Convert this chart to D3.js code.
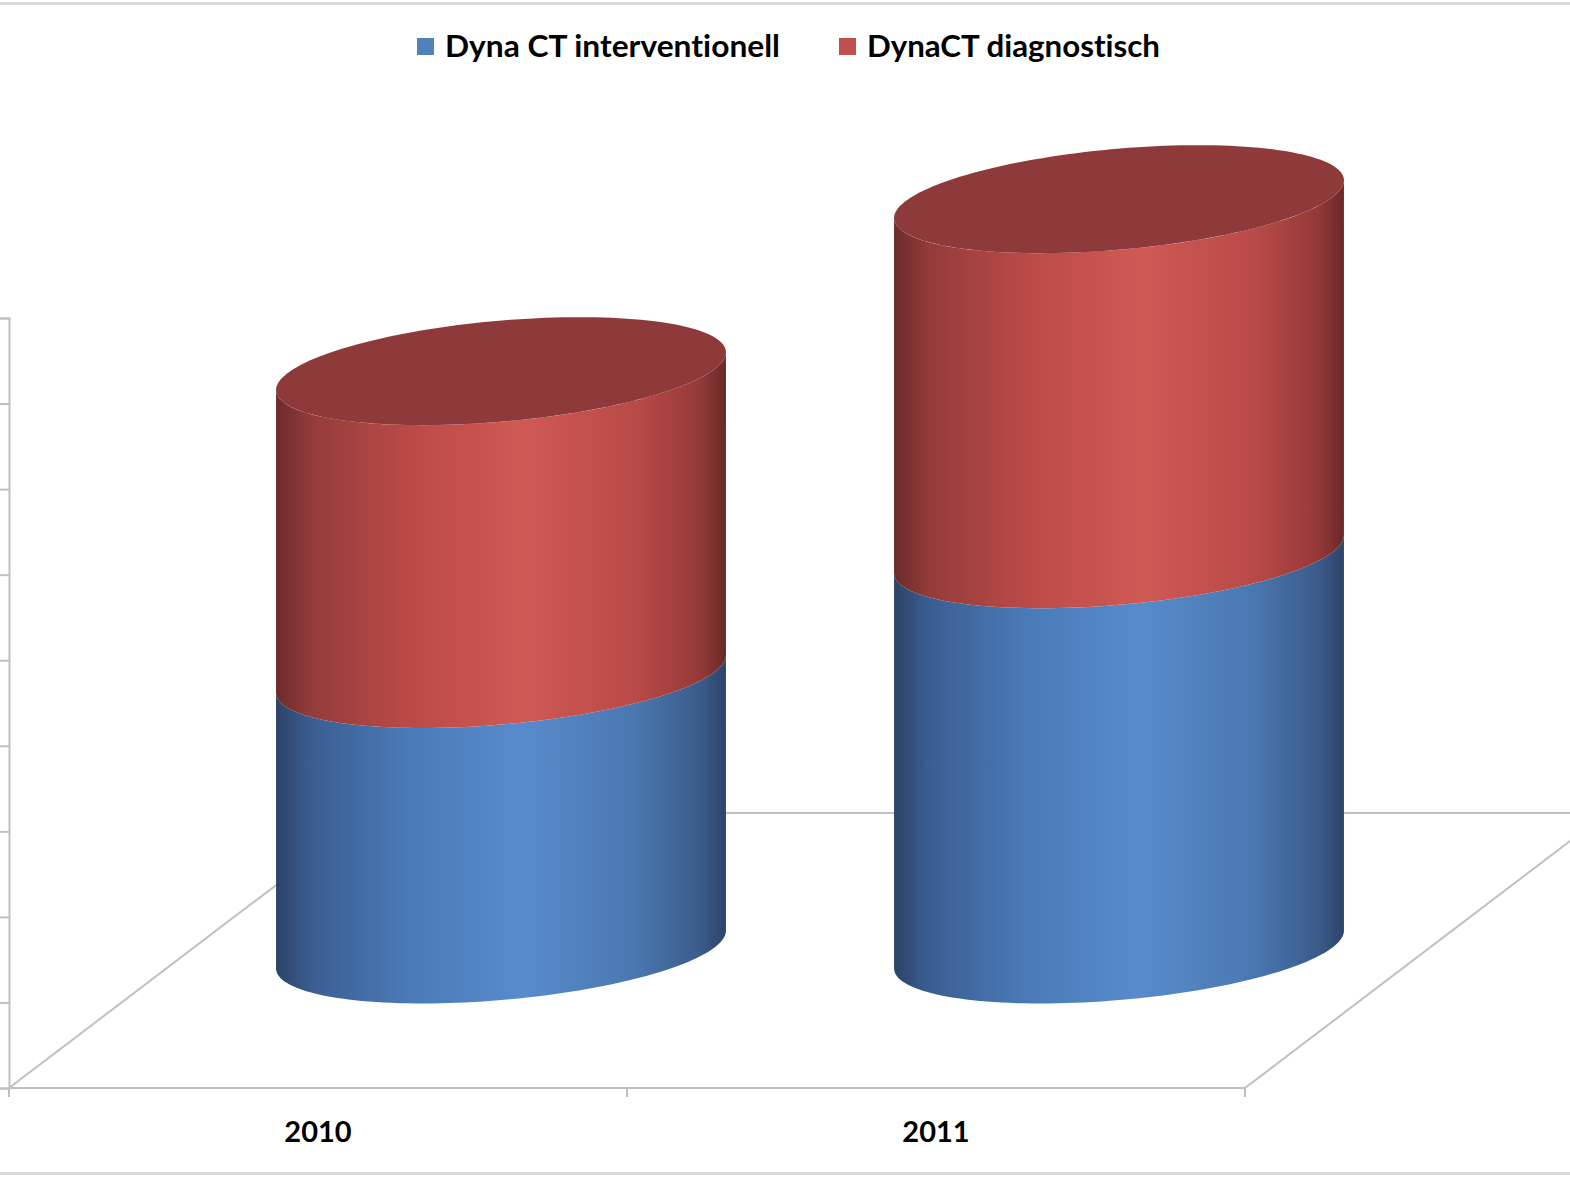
<!DOCTYPE html>
<html>
<head>
<meta charset="utf-8">
<script src="https://cdn.jsdelivr.net/npm/d3@7"></script>
<style>
  html, body { margin: 0; padding: 0; background: #fff; }
  svg { display: block; }
  text { font-family: Lato, "Open Sans", "Liberation Sans", sans-serif; font-weight: 700; fill: #000;
         font-variant-ligatures: none; font-feature-settings: "liga" 0, "dlig" 0; }
</style>
</head>
<body>
<svg id="chart" width="1570" height="1177"></svg>
<script>
// ---- data ----
const categories = ["2010", "2011"];
const seriesNames = ["Dyna CT interventionell", "DynaCT diagnostisch"];
const interventionell = [32.2, 46.2];
const diagnostisch = [35.4, 41.5];
const yTicks = [0, 10, 20, 30, 40, 50, 60, 70, 80, 90];

// ---- layout ----
const W = 1570, H = 1177;
const svg = d3.select("#chart");
const front = { left: 9, right: 1245, bottom: 1088, top: 318 };
const depth = { dx: 362, dy: -275 };       // full floor depth in screen px
const barDepth = 0.5;                        // cylinders sit mid-depth

const x = d3.scaleBand().domain(categories).range([front.left, front.right]);
const y = d3.scaleLinear().domain([0, 90]).range([front.bottom, front.top]);

const grid = "#c0c0c0";

// chart border lines (top / bottom)
svg.append("line").attr("x1", 0).attr("x2", W).attr("y1", 3.5).attr("y2", 3.5)
  .attr("stroke", "#d9d9d9").attr("stroke-width", 3);
svg.append("line").attr("x1", 0).attr("x2", W).attr("y1", 1173.5).attr("y2", 1173.5)
  .attr("stroke", "#d9d9d9").attr("stroke-width", 3);

// floor
const floor = svg.append("g").attr("stroke", grid).attr("stroke-width", 2).attr("fill", "none");
const fl = front.left, fr = front.right, fb = front.bottom;
floor.append("line").attr("x1", fl + depth.dx).attr("y1", fb + depth.dy).attr("x2", fr + depth.dx).attr("y2", fb + depth.dy);
floor.append("line").attr("x1", fl).attr("y1", fb).attr("x2", fl + depth.dx).attr("y2", fb + depth.dy);
floor.append("line").attr("x1", fr).attr("y1", fb).attr("x2", fr + depth.dx).attr("y2", fb + depth.dy);
floor.append("line").attr("x1", fl).attr("y1", fb).attr("x2", fr).attr("y2", fb);

// category axis ticks
const catTicks = [front.left, ...categories.map(c => x(c) + x.bandwidth())];
floor.selectAll("line.ct").data(catTicks).enter().append("line")
  .attr("x1", d => d).attr("x2", d => d).attr("y1", fb).attr("y2", fb + 9);

// value axis
const yAxis = d3.axisLeft(y).tickValues(yTicks).tickSize(9).tickFormat("");
const ya = svg.append("g").attr("transform", `translate(${front.left},0)`).call(yAxis);
ya.select(".domain").attr("stroke", grid).attr("stroke-width", 2);
ya.selectAll(".tick line").attr("stroke", grid).attr("stroke-width", 2);

// gradients
const defs = svg.append("defs");
function grad(id, stops) {
  const g = defs.append("linearGradient").attr("id", id)
    .attr("x1", 0).attr("x2", 1).attr("y1", 0).attr("y2", 0);
  stops.forEach(s => g.append("stop").attr("offset", s[0]).attr("stop-color", s[1]));
}
grad("gBlue", [[0, "#2b4366"], [0.08, "#3b5e92"], [0.3, "#4a7bb8"], [0.55, "#588bcc"], [0.8, "#4a77b0"], [0.94, "#3b5c8a"], [1, "#2c446a"]]);
grad("gRed", [[0, "#6c2a2a"], [0.08, "#943c3b"], [0.3, "#bb4a47"], [0.55, "#cf5955"], [0.8, "#b94a47"], [0.94, "#953a39"], [1, "#6a2828"]]);
const capColor = "#8f3a3a";

// cylinder geometry
const hw = x.bandwidth() * 0.364;   // half width
const eH = hw * 0.24;               // ellipse half-height
const eB = hw * 0.35;               // tilt component
const eA = Math.sqrt(hw * hw - eB * eB);
const phiR = Math.atan2(eB, eA);

function pt(cx, cy, phi) {
  return [cx + eA * Math.cos(phi) + eB * Math.sin(phi), cy - eH * Math.sin(phi)];
}
function arc(cx, cy, from, to, n) {
  const pts = [];
  for (let i = 0; i <= n; i++) pts.push(pt(cx, cy, from + (to - from) * i / n));
  return pts;
}
const lineGen = d3.line();

function sidePath(cx, cTop, cBot) {
  const topArc = arc(cx, cTop, phiR, phiR - Math.PI, 80);
  const botArc = arc(cx, cBot, phiR - Math.PI, phiR, 80);
  return lineGen(topArc.concat(botArc)) + "Z";
}
function capPath(cx, cy) {
  return lineGen(arc(cx, cy, 0, 2 * Math.PI, 160)) + "Z";
}

const stacks = categories.map((c, i) => ({
  cat: c,
  segs: [
    { v0: 0, v1: interventionell[i], fill: "url(#gBlue)" },
    { v0: interventionell[i], v1: interventionell[i] + diagnostisch[i], fill: "url(#gRed)" }
  ]
}));

const offX = depth.dx * barDepth + 2, offY = depth.dy * barDepth - 1;
const bars = svg.append("g");
stacks.forEach(s => {
  const cx = x(s.cat) + x.bandwidth() / 2 + offX;
  const g = bars.append("g");
  s.segs.forEach(seg => {
    g.append("path").attr("d", sidePath(cx, y(seg.v1) + offY, y(seg.v0) + offY)).attr("fill", seg.fill);
  });
  const top = s.segs[s.segs.length - 1];
  g.append("path").attr("d", capPath(cx, y(top.v1) + offY)).attr("fill", capColor);
});

// category labels
svg.selectAll("text.cat").data(categories).enter().append("text")
  .attr("class", "cat")
  .attr("x", d => x(d) + x.bandwidth() / 2)
  .attr("y", 1142)
  .attr("text-anchor", "middle")
  .attr("font-size", 29)
  .text(d => d);

// legend
const legend = svg.append("g");
const legendItems = [
  { name: seriesNames[0], color: "#4f81bd", x: 417, w: 335 },
  { name: seriesNames[1], color: "#c0504d", x: 839, w: 293 }
];
legendItems.forEach(it => {
  legend.append("rect").attr("x", it.x).attr("y", 38).attr("width", 17).attr("height", 17).attr("fill", it.color);
  legend.append("text").attr("x", it.x + 28).attr("y", 57).attr("font-size", 30)
    .attr("textLength", it.w).attr("lengthAdjust", "spacingAndGlyphs").text(it.name);
});
</script>
</body>
</html>
